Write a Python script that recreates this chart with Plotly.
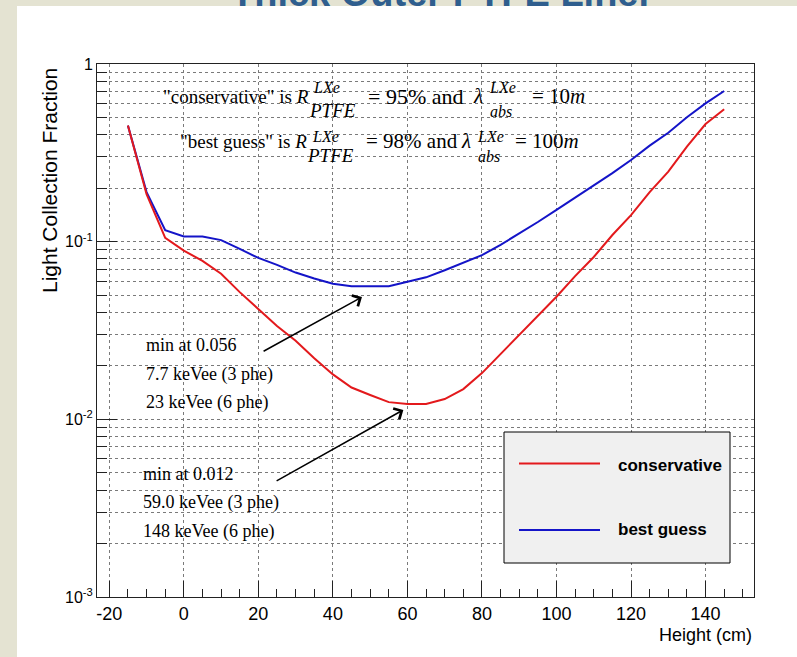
import math
import plotly.graph_objects as go

# ---------------- data ----------------
height_cm = [-15, -10, -5, 0, 5, 10, 15, 20, 25, 30, 35, 40, 45, 50, 55, 60, 65,
             70, 75, 80, 85, 90, 95, 100, 105, 110, 115, 120, 125, 130, 135, 140, 145]
conservative = [0.45, 0.185, 0.105, 0.089, 0.078, 0.066, 0.052, 0.042, 0.0335, 0.0277,
                0.0221, 0.0179, 0.0151, 0.0137, 0.0125, 0.0122, 0.0122, 0.0130, 0.0148,
                0.0182, 0.0233, 0.0297, 0.0383, 0.049, 0.064, 0.082, 0.109, 0.141,
                0.190, 0.248, 0.343, 0.459, 0.556]
best_guess = [0.45, 0.19, 0.116, 0.107, 0.107, 0.102, 0.091, 0.081, 0.074, 0.067,
              0.062, 0.058, 0.0562, 0.0562, 0.0562, 0.0595, 0.063, 0.069, 0.076,
              0.084, 0.096, 0.111, 0.129, 0.151, 0.177, 0.207, 0.243, 0.288, 0.347,
              0.41, 0.502, 0.60, 0.705]

series_names = ["conservative", "best guess"]
y_tick_vals = [0.001, 0.01, 0.1, 1]
y_tick_text = ["10<sup>-3</sup>", "10<sup>-2</sup>", "10<sup>-1</sup>", "1"]
x_tick_vals = [-20, 0, 20, 40, 60, 80, 100, 120, 140]
x_tick_text = ["-20", "0", "20", "40", "60", "80", "100", "120", "140"]

# arrows: (tail x, tail y, head x, head y) in data units
arrow_best = (21.0, 0.0239, 47.8, 0.0488)
arrow_cons = (24.5, 0.00446, 58.9, 0.0113)

# ---------------- layout geometry ----------------
W, H = 797, 657
L, R, T, B = 97, 754, 64, 597


def px(x):
    return (x - L) / (R - L)


def py(y):
    return (B - y) / (B - T)


RED = "#E3191C"
BLUE = "#1414C8"
SANS = "Liberation Sans, Arial, sans-serif"
SERIF = "Liberation Serif, Times New Roman, serif"

fig = go.Figure()
fig.add_trace(go.Scatter(x=height_cm, y=best_guess, mode="lines", name=series_names[1],
                         line=dict(color=BLUE, width=2), showlegend=False))
fig.add_trace(go.Scatter(x=height_cm, y=conservative, mode="lines", name=series_names[0],
                         line=dict(color=RED, width=2), showlegend=False))

minor_log = [m * 10 ** e for e in (-3, -2, -1) for m in range(2, 10)]

fig.update_layout(
    width=W, height=H,
    margin=dict(l=L, r=W - R, t=T, b=H - B, pad=0),
    paper_bgcolor="#E4E3D2",
    plot_bgcolor="white",
    showlegend=False,
    xaxis=dict(range=[-23.3, 153], tickmode="array", tickvals=x_tick_vals,
               ticktext=x_tick_text,
               ticks="inside", ticklen=16, tickcolor="#222", tickwidth=1,
               minor=dict(dtick=5, tick0=0, ticks="inside", ticklen=8, tickcolor="#222",
                          showgrid=False),
               showgrid=True, gridcolor="#7a7a7a", griddash="dot", gridwidth=1,
               showline=True, mirror=True, linecolor="#222", linewidth=1,
               zeroline=False, tickfont=dict(family=SANS, size=18, color="black")),
    yaxis=dict(type="log", range=[-3, 0], tickmode="array", tickvals=y_tick_vals,
               ticktext=y_tick_text, ticks="inside", ticklen=20, tickcolor="#222",
               minor=dict(tickmode="array", tickvals=minor_log, ticks="inside", ticklen=10,
                          tickcolor="#222", showgrid=True, gridcolor="#7a7a7a",
                          griddash="dot", gridwidth=1),
               showgrid=True, gridcolor="#7a7a7a", griddash="dot", gridwidth=1,
               showline=True, mirror=True, linecolor="#222", linewidth=1,
               zeroline=False, tickfont=dict(family=SANS, size=16, color="black")),
)

shapes = []
# white slide area over the textured background
shapes.append(dict(type="rect", xref="paper", yref="paper", layer="below",
                   x0=px(17), x1=px(800), y0=py(660), y1=py(6),
                   fillcolor="white", line=dict(width=0)))
# legend box
shapes.append(dict(type="rect", xref="paper", yref="paper",
                   x0=px(504), x1=px(730), y0=py(563), y1=py(432),
                   fillcolor="#F0F0F0", line=dict(color="black", width=1)))
shapes.append(dict(type="line", xref="paper", yref="paper",
                   x0=px(519), x1=px(600), y0=py(463.5), y1=py(463.5),
                   line=dict(color=RED, width=2)))
shapes.append(dict(type="line", xref="paper", yref="paper",
                   x0=px(519), x1=px(600), y0=py(530), y1=py(530),
                   line=dict(color=BLUE, width=2)))
fig.update_layout(shapes=shapes)

ann = []


def txt(text, x, y, size, family=SERIF, xanchor="left", color="black", bold=False,
        angle=0):
    ann.append(dict(text=("<b>%s</b>" % text) if bold else text, x=px(x), y=py(y),
                    xref="paper", yref="paper", xanchor=xanchor, yanchor="middle",
                    showarrow=False, textangle=angle,
                    font=dict(family=family, size=size, color=color)))


# partially visible slide title
ann.append(dict(text="<b>Thick Outer PTFE Liner</b>", x=px(442), y=py(16),
                xref="paper", yref="paper", xanchor="center", yanchor="bottom",
                showarrow=False, font=dict(family=SANS, size=38, color="#2F5E8E")))

# axis titles
txt("Light Collection Fraction", 49, 181, 21, family=SANS, xanchor="center", angle=-90)
txt("Height (cm)", 754, 635, 18, family=SANS, xanchor="right")

# formula lines
MS, SS, SB = 21, 16, 19
txt('"conservative" is <i>R</i>', 311, 96, 19, xanchor="right")
txt("<i>LXe</i>", 311, 87.5, SS)
txt("<i>PTFE</i>", 307, 110.5, SB)
txt("= 95% and", 366, 96, 22)
txt("<i>λ</i>", 471, 96, MS)
txt("<i>LXe</i>", 487, 87.5, SS)
txt("<i>abs</i>", 488, 111, SS)
txt("= 10<i>m</i>", 530, 96, MS)

txt('"best guess" is <i>R</i>', 309, 141, 19, xanchor="right")
txt("<i>LXe</i>", 310, 136, SS)
txt("<i>PTFE</i>", 305, 155, SB)
txt("= 98% and", 364, 141, MS)
txt("<i>λ</i>", 459, 141, MS)
txt("<i>LXe</i>", 475, 136, SS)
txt("<i>abs</i>", 476, 156, SS)
txt("= 100<i>m</i>", 513, 141, MS)

# minimum annotations
AS = 18
txt("min at 0.056", 144, 345, AS)
txt("7.7 keVee (3 phe)", 144, 374, AS)
txt("23 keVee (6 phe)", 144, 402, AS)
txt("min at 0.012", 141, 474, AS)
txt("59.0 keVee (3 phe)", 141, 502, AS)
txt("148 keVee (6 phe)", 141, 531, AS)

# legend labels
txt("conservative", 616, 465, 17, family=SANS, bold=True)
txt("best guess", 616, 529, 17, family=SANS, bold=True)

for (x0, y0, x1, y1) in (arrow_best, arrow_cons):
    ann.append(dict(x=x1, y=math.log10(y1), ax=x0, ay=math.log10(y0),
                    xref="x", yref="y", axref="x", ayref="y", text="",
                    showarrow=True, arrowhead=4, arrowsize=1.6, arrowwidth=1.5,
                    arrowcolor="black", standoff=0, startstandoff=0))

fig.update_layout(annotations=ann)
fig.write_html("out.html")
